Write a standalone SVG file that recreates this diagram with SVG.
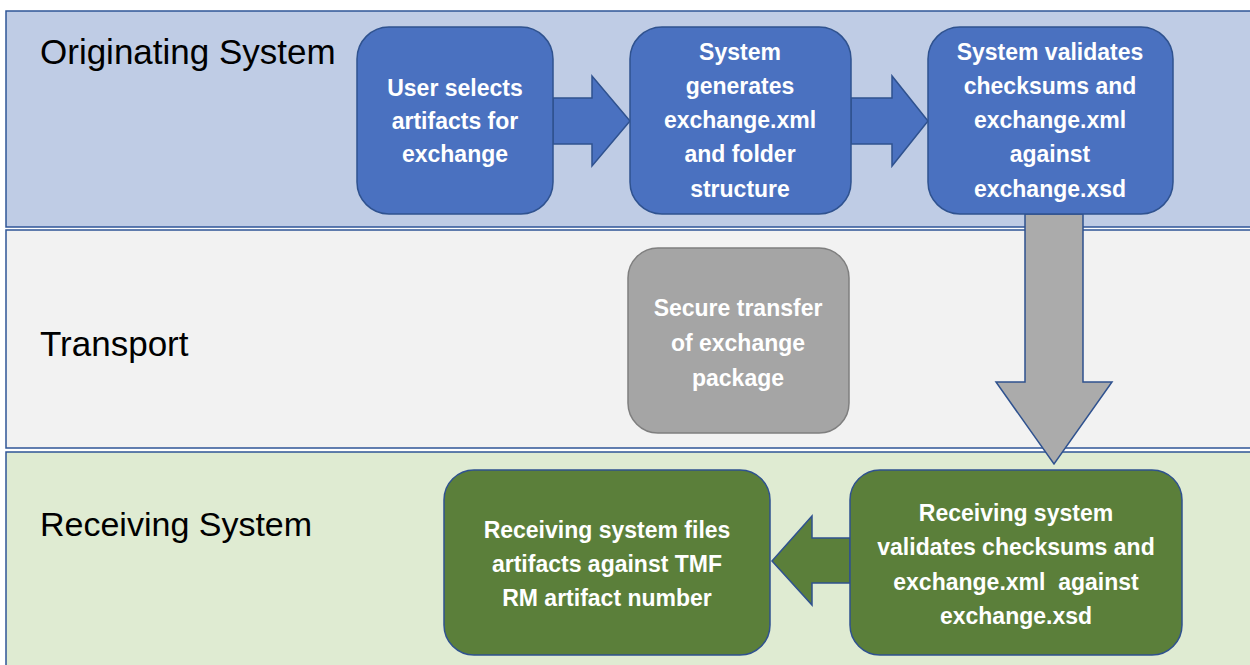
<svg xmlns="http://www.w3.org/2000/svg" width="1250" height="665" viewBox="0 0 1250 665">
<style>
.lane-title{font-family:"Liberation Sans",Arial,sans-serif;font-size:35px;fill:#000}
.lbl{font-family:"Liberation Sans",Arial,sans-serif;font-size:23px;font-weight:bold;fill:#fff;text-anchor:middle;white-space:pre}
.blue{fill:#4A71C0;stroke:#2F528F;stroke-width:1.5}
.gray{fill:#A5A5A5;stroke:#7F7F7F;stroke-width:1.5}
.green{fill:#5B7F3A;stroke:#2F528F;stroke-width:1.5}
.garrow{fill:#ABABAB;stroke:#2F528F;stroke-width:1.5}
</style>
<rect x="0" y="0" width="1250" height="665" fill="#fff"/>
<g id="lanes">
<rect x="6" y="11" width="1250" height="216" fill="#BFCCE5" stroke="#2F5597" stroke-width="1.5"/>
<rect x="6" y="230" width="1250" height="218" fill="#F2F2F2" stroke="#2F5597" stroke-width="1.5"/>
<rect x="6" y="452" width="1250" height="220" fill="#DFEBD2" stroke="#2F5597" stroke-width="1.5"/>
<text class="lane-title" x="40" y="64">Originating System</text>
<text class="lane-title" x="40" y="356">Transport</text>
<text class="lane-title" x="40" y="536" style="font-size:34px">Receiving System</text>
</g>
<g id="connectors">
<polygon class="blue" points="553,98 592,98 592,76 630,121 592,166 592,144 553,144"/>
<polygon class="blue" points="851,98 892,98 892,76 928,121 892,166 892,144 851,144"/>
<polygon class="garrow" points="1025,214 1083,214 1083,382 1112,382 1054,464 996,382 1025,382"/>
<polygon class="green" points="850,538 812,538 812,516 772,561 812,605 812,583 850,583"/>
</g>
<g id="node-select">
<rect class="blue" x="357" y="27" width="196" height="187" rx="32"/>
<text class="lbl" x="455" y="96">User selects</text>
<text class="lbl" x="455" y="129">artifacts for</text>
<text class="lbl" x="455" y="162">exchange</text>
</g>
<g id="node-generate">
<rect class="blue" x="630" y="27" width="221" height="187" rx="32"/>
<text class="lbl" x="740" y="60">System</text>
<text class="lbl" x="740" y="94">generates</text>
<text class="lbl" x="740" y="128">exchange.xml</text>
<text class="lbl" x="740" y="162">and folder</text>
<text class="lbl" x="740" y="197">structure</text>
</g>
<g id="node-validate">
<rect class="blue" x="928" y="27" width="245" height="187" rx="32"/>
<text class="lbl" x="1050" y="60">System validates</text>
<text class="lbl" x="1050" y="94">checksums and</text>
<text class="lbl" x="1050" y="128">exchange.xml</text>
<text class="lbl" x="1050" y="162">against</text>
<text class="lbl" x="1050" y="197">exchange.xsd</text>
</g>
<g id="node-transfer">
<rect class="gray" x="628" y="248" width="221" height="185" rx="30"/>
<text class="lbl" x="738" y="316">Secure transfer</text>
<text class="lbl" x="738" y="351">of exchange</text>
<text class="lbl" x="738" y="386">package</text>
</g>
<g id="node-receive-validate">
<rect class="green" x="850" y="470" width="332" height="185" rx="30"/>
<text class="lbl" x="1016" y="521">Receiving system</text>
<text class="lbl" x="1016" y="555">validates checksums and</text>
<text class="lbl" x="1016" y="590" xml:space="preserve">exchange.xml  against</text>
<text class="lbl" x="1016" y="624">exchange.xsd</text>
</g>
<g id="node-file">
<rect class="green" x="444" y="470" width="326" height="185" rx="30"/>
<text class="lbl" x="607" y="538">Receiving system files</text>
<text class="lbl" x="607" y="572">artifacts against TMF</text>
<text class="lbl" x="607" y="606">RM artifact number</text>
</g>
</svg>
